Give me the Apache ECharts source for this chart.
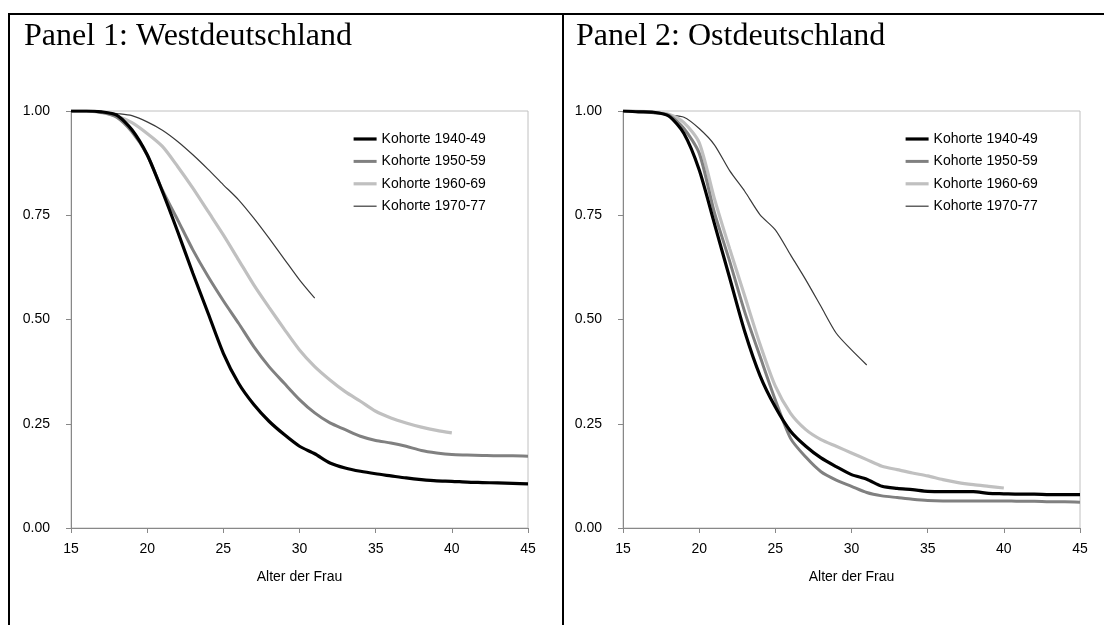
<!DOCTYPE html>
<html>
<head>
<meta charset="utf-8">
<script src="https://cdn.jsdelivr.net/npm/echarts@6/dist/echarts.min.js"></script>
<style>
  html, body { margin: 0; padding: 0; background: #fff; }
  #chart { width: 1104px; height: 625px; }
</style>
</head>
<body>
<div id="chart"></div>
<script>
  // Alter der Frau
  const ages = [15, 16, 17, 18, 19, 20, 21, 22, 23, 24, 25, 26, 27, 28, 29, 30,
                31, 32, 33, 34, 35, 36, 37, 38, 39, 40, 41, 42, 43, 44, 45];

  const cohorts = ['Kohorte 1940-49', 'Kohorte 1950-59', 'Kohorte 1960-69', 'Kohorte 1970-77'];

  // Panel 1: Westdeutschland
  const west4049 = [1.00, 1.00, 0.998, 0.99, 0.955, 0.895, 0.807, 0.711, 0.611, 0.515, 0.419,
                    0.347, 0.296, 0.256, 0.224, 0.196, 0.178, 0.156, 0.144, 0.136, 0.130,
                    0.125, 0.120, 0.116, 0.113, 0.112, 0.110, 0.109, 0.108, 0.107, 0.106];
  const west5059 = [1.00, 1.00, 0.997, 0.985, 0.95, 0.895, 0.81, 0.739, 0.667, 0.603, 0.545,
                    0.491, 0.435, 0.387, 0.347, 0.308, 0.276, 0.252, 0.236, 0.220, 0.210,
                    0.204, 0.196, 0.186, 0.180, 0.176, 0.175, 0.174, 0.173, 0.173, 0.172];
  const west6069 = [1.00, 1.00, 0.996, 0.988, 0.972, 0.946, 0.915, 0.867, 0.815, 0.759, 0.703,
                    0.643, 0.583, 0.529, 0.477, 0.427, 0.387, 0.355, 0.327, 0.304, 0.280,
                    0.264, 0.252, 0.242, 0.234, 0.228];
  const west7077 = [1.00, 1.00, 0.998, 0.994, 0.989, 0.974, 0.954, 0.927, 0.895, 0.860, 0.823,
                    0.787, 0.743, 0.695, 0.645, 0.595, 0.551];

  // Panel 2: Ostdeutschland
  const east4049 = [1.00, 0.998, 0.997, 0.988, 0.946, 0.859, 0.73, 0.60, 0.47, 0.365, 0.29,
                    0.232, 0.196, 0.168, 0.147, 0.128, 0.117, 0.100, 0.095, 0.092, 0.088,
                    0.087, 0.087, 0.087, 0.083, 0.082, 0.081, 0.081, 0.080, 0.080, 0.080];
  const east5059 = [1.00, 0.999, 0.996, 0.99, 0.958, 0.899, 0.757, 0.64, 0.517, 0.411, 0.307,
                    0.215, 0.170, 0.135, 0.115, 0.100, 0.085, 0.077, 0.073, 0.069, 0.066,
                    0.065, 0.065, 0.065, 0.065, 0.065, 0.064, 0.064, 0.063, 0.063, 0.062];
  const east6069 = [1.00, 1.00, 0.997, 0.992, 0.972, 0.924, 0.79, 0.67, 0.555, 0.44, 0.34,
                    0.275, 0.236, 0.212, 0.196, 0.180, 0.164, 0.148, 0.140, 0.132, 0.125,
                    0.116, 0.109, 0.104, 0.100, 0.096];
  const east7077 = [1.00, 1.00, 0.997, 0.990, 0.985, 0.958, 0.919, 0.857, 0.807, 0.751, 0.715,
                    0.655, 0.595, 0.531, 0.467, 0.427, 0.391];

  const yTicks = [0, 0.25, 0.5, 0.75, 1];

  const lineColors = ['#000000', '#808080', '#c0c0c0', '#3a3a3a'];
  const lineWidths = [3.2, 3, 3.2, 1.2];
  const sans = 'Liberation Sans, Arial, sans-serif';
  const serif = 'Liberation Serif, Times New Roman, serif';

  function makeSeries(panel, valueLists) {
    return valueLists.map(function (vals, i) {
      return {
        name: cohorts[i],
        type: 'line',
        xAxisIndex: panel,
        yAxisIndex: panel,
        data: vals.map(function (v, k) { return [ages[k], v]; }),
        symbol: 'none',
        showSymbol: false,
        smooth: 0.25,
        color: lineColors[i],
        lineStyle: { color: lineColors[i], width: lineWidths[i] },
        z: 10 - i
      };
    });
  }

  function makeX(panel) {
    return {
      type: 'value',
      gridIndex: panel,
      min: 15,
      max: 45,
      interval: 5,
      name: 'Alter der Frau',
      nameLocation: 'middle',
      nameGap: 42,
      nameTextStyle: { fontSize: 14, color: '#000', fontFamily: sans },
      axisLine: { lineStyle: { color: '#888', width: 1 } },
      axisTick: { show: true, length: 5, lineStyle: { color: '#888' } },
      axisLabel: { fontSize: 14, color: '#000', fontFamily: sans, margin: 14 },
      splitLine: { show: false }
    };
  }

  function makeY(panel) {
    return {
      type: 'value',
      gridIndex: panel,
      min: yTicks[0],
      max: yTicks[yTicks.length - 1],
      interval: 0.25,
      axisLine: { show: true, lineStyle: { color: '#888', width: 1 } },
      axisTick: { show: true, length: 5, lineStyle: { color: '#888' } },
      axisLabel: {
        fontSize: 14, color: '#000', fontFamily: sans, margin: 21,
        formatter: function (v) { return v.toFixed(2); }
      },
      splitLine: { show: false }
    };
  }

  function makeLegend(left) {
    return {
      orient: 'vertical',
      left: left,
      top: 132,
      padding: 0,
      itemWidth: 23,
      itemHeight: 14,
      itemGap: 8.4,
      data: cohorts.map(function (name, i) {
        return { name: name, lineStyle: { width: lineWidths[i] } };
      }),
      // hide the marker dot, keep only the line sample
      itemStyle: { opacity: 0 },
      textStyle: { fontSize: 14, color: '#000', fontFamily: sans }
    };
  }

  const chart = echarts.init(document.getElementById('chart'));
  chart.setOption({
    animation: false,
    backgroundColor: '#fff',
    title: [
      { text: 'Panel 1: Westdeutschland', left: 24, top: 21, padding: 0,
        textStyle: { fontFamily: serif, fontSize: 32, fontWeight: 'normal', color: '#000' } },
      { text: 'Panel 2: Ostdeutschland', left: 576, top: 21, padding: 0,
        textStyle: { fontFamily: serif, fontSize: 32, fontWeight: 'normal', color: '#000' } }
    ],
    legend: [makeLegend(352), makeLegend(904)],
    grid: [
      { left: 71, top: 111, width: 457, height: 417, show: true, borderColor: '#c0c0c0', borderWidth: 1 },
      { left: 623, top: 111, width: 457, height: 417, show: true, borderColor: '#c0c0c0', borderWidth: 1 }
    ],
    xAxis: [makeX(0), makeX(1)],
    yAxis: [makeY(0), makeY(1)],
    series: makeSeries(0, [west4049, west5059, west6069, west7077])
      .concat(makeSeries(1, [east4049, east5059, east6069, east7077])),
    graphic: [
      // outer table frame
      { type: 'line', shape: { x1: 9, y1: 14, x2: 1104, y2: 14 }, style: { stroke: '#000', lineWidth: 2 } },
      { type: 'line', shape: { x1: 9, y1: 13, x2: 9, y2: 625 }, style: { stroke: '#000', lineWidth: 2 } },
      { type: 'line', shape: { x1: 563, y1: 13, x2: 563, y2: 625 }, style: { stroke: '#000', lineWidth: 2 } }
    ]
  });
</script>
</body>
</html>
